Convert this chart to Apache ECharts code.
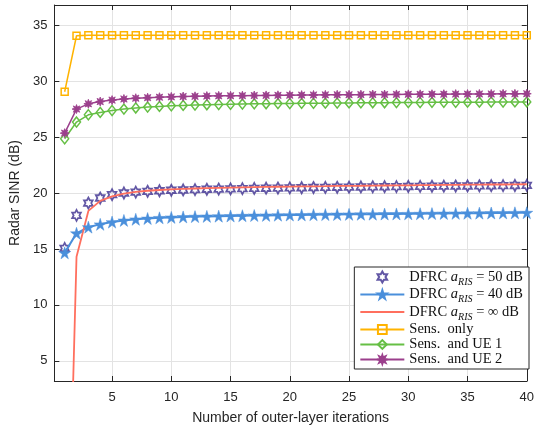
<!DOCTYPE html>
<html><head><meta charset="utf-8">
<script src="https://cdn.jsdelivr.net/npm/echarts@6/dist/echarts.min.js"></script>
<style>html,body{margin:0;padding:0;background:#fff}#c{width:537px;height:430px}</style>
</head><body><div id="c"></div>
<script>
const iterations = Array.from({length: 40}, (_, i) => i + 1);
const dfrc50 = [15.05, 18.0, 19.1, 19.55, 19.85, 20.0, 20.08, 20.15, 20.2, 20.24, 20.27, 20.3, 20.33, 20.35, 20.37, 20.39, 20.41, 20.43, 20.44, 20.46, 20.47, 20.49, 20.5, 20.51, 20.52, 20.54, 20.55, 20.56, 20.57, 20.58, 20.59, 20.6, 20.61, 20.62, 20.63, 20.64, 20.65, 20.66, 20.67, 20.68];
const dfrc40 = [14.65, 16.4, 16.95, 17.2, 17.4, 17.55, 17.65, 17.72, 17.78, 17.82, 17.86, 17.89, 17.91, 17.93, 17.95, 17.97, 17.99, 18.0, 18.02, 18.03, 18.04, 18.06, 18.07, 18.08, 18.09, 18.1, 18.11, 18.12, 18.13, 18.14, 18.15, 18.16, 18.17, 18.18, 18.19, 18.2, 18.21, 18.22, 18.23, 18.24];
const dfrcInf = [-25, 14.3, 18.4, 19.3, 19.7, 19.95, 20.1, 20.2, 20.27, 20.32, 20.36, 20.4, 20.43, 20.46, 20.48, 20.5, 20.52, 20.54, 20.56, 20.57, 20.59, 20.6, 20.61, 20.63, 20.64, 20.65, 20.66, 20.67, 20.68, 20.69, 20.7, 20.71, 20.72, 20.73, 20.74, 20.75, 20.76, 20.76, 20.77, 20.78];
const sensOnly = [29.05, 34.05, 34.1, 34.1, 34.1, 34.1, 34.1, 34.1, 34.1, 34.1, 34.1, 34.1, 34.1, 34.1, 34.1, 34.1, 34.1, 34.1, 34.1, 34.1, 34.1, 34.1, 34.1, 34.1, 34.1, 34.1, 34.1, 34.1, 34.1, 34.1, 34.1, 34.1, 34.1, 34.1, 34.1, 34.1, 34.1, 34.1, 34.1, 34.1];
const sensUE1 = [24.85, 26.34, 26.99, 27.2, 27.37, 27.5, 27.6, 27.68, 27.74, 27.79, 27.83, 27.86, 27.89, 27.91, 27.93, 27.95, 27.97, 27.98, 27.99, 28.0, 28.01, 28.02, 28.03, 28.04, 28.05, 28.06, 28.07, 28.07, 28.08, 28.09, 28.09, 28.1, 28.11, 28.11, 28.12, 28.12, 28.13, 28.13, 28.14, 28.14];
const sensUE2 = [25.35, 27.5, 27.97, 28.17, 28.3, 28.4, 28.47, 28.52, 28.56, 28.59, 28.62, 28.64, 28.66, 28.68, 28.69, 28.7, 28.71, 28.72, 28.73, 28.74, 28.75, 28.76, 28.77, 28.78, 28.78, 28.79, 28.8, 28.8, 28.81, 28.82, 28.82, 28.83, 28.83, 28.84, 28.84, 28.85, 28.85, 28.86, 28.86, 28.87];
const xTicks = [5, 10, 15, 20, 25, 30, 35, 40];
const yTicks = [5, 10, 15, 20, 25, 30, 35];
const seriesNames = ['DFRC50', 'DFRC40', 'DFRCinf', 'Sens. only', 'Sens. and UE 1', 'Sens. and UE 2'];

const pair = arr => iterations.map((x, i) => [x, arr[i]]);
const hexagram = 'path://M50 0 L64.43 25 L93.3 25 L78.87 50 L93.3 75 L64.43 75 L50 100 L35.57 75 L6.7 75 L21.13 50 L6.7 25 L35.57 25 Z';
const pentagram = 'path://M50 0 L61.23 34.55 L97.55 34.55 L68.17 55.9 L79.39 90.45 L50 69.1 L20.61 90.45 L31.83 55.9 L2.45 34.55 L38.77 34.55 Z';
const asterisk = 'path://M50 0 L59.6 26.9 L85.4 14.6 L73.1 40.4 L100 50 L73.1 59.6 L85.4 85.4 L59.6 73.1 L50 100 L40.4 73.1 L14.6 85.4 L26.9 59.6 L0 50 L26.9 40.4 L14.6 14.6 L40.4 26.9 Z';

const C = {navy: '#3B2D8F', blue: '#4A8FDB', red: '#FF6F5E', yellow: '#FFB300', green: '#66BF45', purple: '#9B3F8C'};
const sansFont = '"Liberation Sans", Arial, Helvetica, sans-serif';
const serifFont = '"Liberation Serif", "DejaVu Serif", serif';

const rich = {
  t: {fontFamily: serifFont, fontSize: 14.5, color: '#111', lineHeight: 14, verticalAlign: 'middle'},
  i: {fontFamily: serifFont, fontSize: 14.5, fontStyle: 'italic', color: '#111', lineHeight: 14, verticalAlign: 'middle'},
  s: {fontFamily: serifFont, fontSize: 10, fontStyle: 'italic', color: '#111', lineHeight: 10, verticalAlign: 'bottom', padding: [0, 0, -3, 0]}
};
const legendLabels = {
  'DFRC50': '{t|DFRC }{i|a}{s|RIS}{t| = 50 dB}',
  'DFRC40': '{t|DFRC }{i|a}{s|RIS}{t| = 40 dB}',
  'DFRCinf': '{t|DFRC }{i|a}{s|RIS}{t| = \u221E dB}',
  'Sens. only': '{t|Sens.  only}',
  'Sens. and UE 1': '{t|Sens.  and UE 1}',
  'Sens. and UE 2': '{t|Sens.  and UE 2}'
};

const axisCommonX = {type: 'value', min: 0.13, max: 40, minInterval: 5, maxInterval: 5};
const axisCommonY = {type: 'value', min: 3.2, max: 36.8, minInterval: 5, maxInterval: 5};
const lineAxis = {show: true, lineStyle: {color: '#262626', width: 1}};
const tickIn = {show: true, inside: true, length: 5, lineStyle: {color: '#262626'}};

const option = {
  animation: false,
  backgroundColor: '#fff',
  grid: {left: 54, right: 6, top: 5, bottom: 49},
  xAxis: [
    Object.assign({}, axisCommonX, {
      position: 'bottom',
      name: 'Number of outer-layer iterations', nameLocation: 'middle', nameGap: 30,
      nameTextStyle: {fontFamily: sansFont, fontSize: 14, color: '#262626'},
      axisLine: lineAxis, axisTick: tickIn,
      axisLabel: {showMinLabel: false, margin: 10, fontFamily: sansFont, fontSize: 13, color: '#262626'},
      splitLine: {show: true, lineStyle: {color: '#e3e3e3', width: 1}}
    }),
    Object.assign({}, axisCommonX, {
      position: 'top', axisLine: lineAxis, axisTick: tickIn,
      axisLabel: {show: false}, splitLine: {show: false}
    })
  ],
  yAxis: [
    Object.assign({}, axisCommonY, {
      position: 'left',
      name: 'Radar SINR (dB)', nameLocation: 'middle', nameGap: 27,
      nameTextStyle: {fontFamily: sansFont, fontSize: 14, color: '#262626'},
      axisLine: lineAxis, axisTick: tickIn,
      axisLabel: {showMinLabel: false, showMaxLabel: false, margin: 7, fontFamily: sansFont, fontSize: 13, color: '#262626'},
      splitLine: {show: true, lineStyle: {color: '#e3e3e3', width: 1}}
    }),
    Object.assign({}, axisCommonY, {
      position: 'right', axisLine: lineAxis, axisTick: tickIn,
      axisLabel: {show: false}, splitLine: {show: false}
    })
  ],
  legend: {
    orient: 'vertical', right: 8, top: 267,
    data: seriesNames.map(n => n === 'DFRCinf' ? {name: n, itemStyle: {opacity: 0}} : {name: n}),
    itemWidth: 44, itemHeight: 11, itemGap: 0,
    padding: [2, 6, 2, 5],
    backgroundColor: '#fff', borderColor: '#262626', borderWidth: 1,
    formatter: name => legendLabels[name],
    textStyle: {rich: rich, fontFamily: serifFont, fontSize: 14.5, color: '#111'}
  },
  series: [
    {name: 'DFRC50', type: 'scatter', data: pair(dfrc50), symbol: hexagram, symbolSize: [10, 11], symbolKeepAspect: true,
      itemStyle: {color: 'none', borderColor: C.navy, borderWidth: 1.8}},
    {name: 'DFRC40', type: 'line', data: pair(dfrc40), symbol: pentagram, symbolSize: 12, showSymbol: true,
      lineStyle: {color: C.blue, width: 2}, itemStyle: {color: C.blue, borderColor: C.blue, borderWidth: 0.5}},
    {name: 'DFRCinf', type: 'line', data: pair(dfrcInf), symbol: 'none', clip: true,
      lineStyle: {color: C.red, width: 1.8}, itemStyle: {color: C.red}},
    {name: 'Sens. only', type: 'line', data: pair(sensOnly), symbol: 'rect', symbolSize: 7,
      lineStyle: {color: C.yellow, width: 1.5}, itemStyle: {color: 'none', borderColor: C.yellow, borderWidth: 1.5}},
    {name: 'Sens. and UE 1', type: 'line', data: pair(sensUE1), symbol: 'diamond', symbolSize: [8, 10],
      lineStyle: {color: C.green, width: 1.5}, itemStyle: {color: 'none', borderColor: C.green, borderWidth: 1.5}},
    {name: 'Sens. and UE 2', type: 'line', data: pair(sensUE2), symbol: asterisk, symbolSize: 9,
      lineStyle: {color: C.purple, width: 1.5}, itemStyle: {color: C.purple, borderColor: C.purple, borderWidth: 0.8}}
  ]
};
const chart = echarts.init(document.getElementById('c'), null, {renderer: 'canvas'});
chart.setOption(option);
</script>
</body></html>
